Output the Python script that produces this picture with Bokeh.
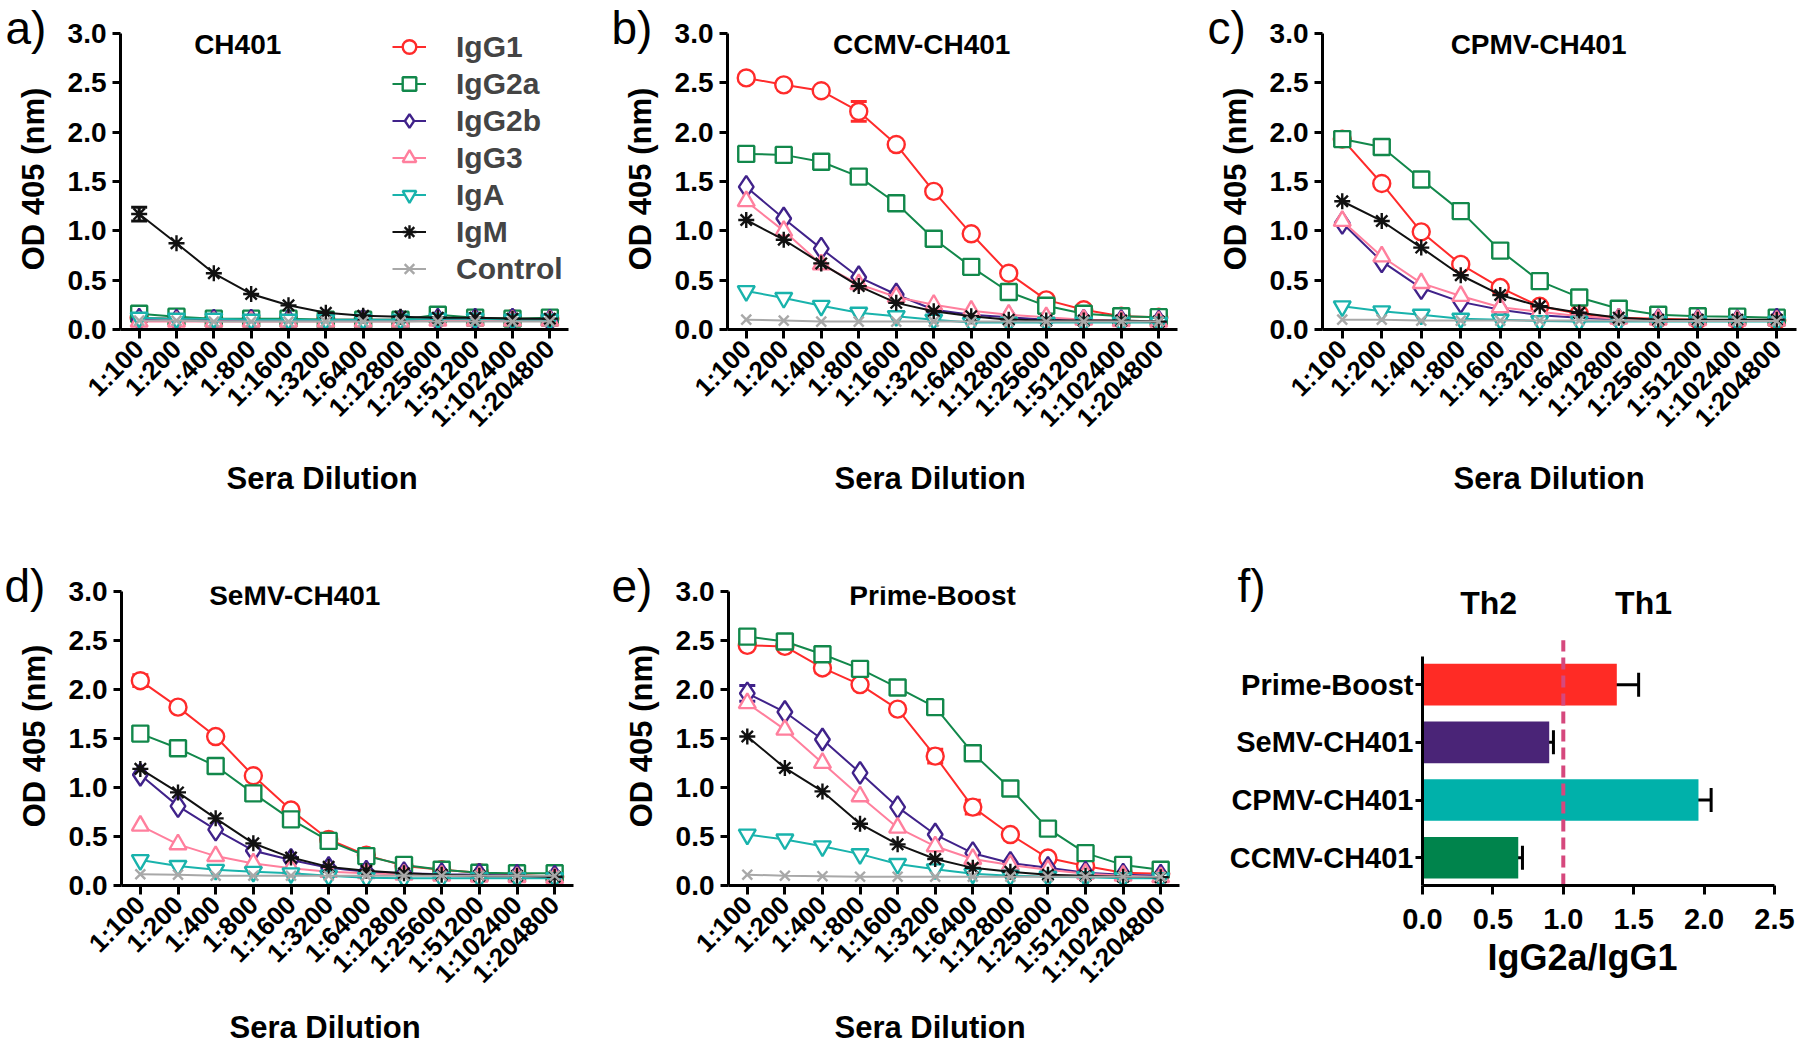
import math
from bokeh.plotting import figure
from bokeh.layouts import row, column
from bokeh.models import (Range1d, FixedTicker, Legend, LegendItem, Label, Whisker,
                          TeeHead, ColumnDataSource, NumeralTickFormatter, Title)
from bokeh.embed import file_html
from bokeh.resources import INLINE

FONT = "Liberation Sans"

DILUTIONS = ["1:100", "1:200", "1:400", "1:800", "1:1600", "1:3200", "1:6400",
             "1:12800", "1:25600", "1:51200", "1:102400", "1:204800"]
SERIES = ["IgG1", "IgG2a", "IgG2b", "IgG3", "IgA", "IgM", "Control"]
Y_TICKS = [0.0, 0.5, 1.0, 1.5, 2.0, 2.5, 3.0]

# ---- panel a) CH401
CH401 = {
    "IgG1":    [0.12, 0.11, 0.10, 0.10, 0.10, 0.10, 0.10, 0.10, 0.11, 0.11, 0.11, 0.11],
    "IgG2a":   [0.16, 0.13, 0.11, 0.11, 0.11, 0.10, 0.10, 0.10, 0.15, 0.12, 0.11, 0.12],
    "IgG2b":   [0.10, 0.09, 0.09, 0.09, 0.09, 0.09, 0.09, 0.09, 0.10, 0.10, 0.10, 0.09],
    "IgG3":    [0.08, 0.08, 0.08, 0.08, 0.08, 0.08, 0.08, 0.08, 0.09, 0.09, 0.09, 0.09],
    "IgA":     [0.12, 0.11, 0.11, 0.10, 0.10, 0.10, 0.10, 0.10, 0.11, 0.11, 0.10, 0.10],
    "IgM":     [1.17, 0.875, 0.57, 0.36, 0.245, 0.17, 0.14, 0.13, 0.12, 0.12, 0.11, 0.11],
    "Control": [0.09, 0.09, 0.08, 0.08, 0.08, 0.08, 0.08, 0.08, 0.08, 0.08, 0.08, 0.08],
}
CH401_ERR = {"IgM": [0.07, 0, 0, 0, 0, 0, 0, 0, 0, 0, 0, 0]}

# ---- panel b) CCMV-CH401
CCMV = {
    "IgG1":    [2.55, 2.48, 2.42, 2.21, 1.875, 1.40, 0.97, 0.57, 0.30, 0.20, 0.135, 0.125],
    "IgG2a":   [1.78, 1.77, 1.70, 1.55, 1.28, 0.92, 0.635, 0.38, 0.24, 0.16, 0.135, 0.125],
    "IgG2b":   [1.445, 1.125, 0.82, 0.53, 0.355, 0.20, 0.15, 0.125, 0.10, 0.09, 0.085, 0.08],
    "IgG3":    [1.30, 1.00, 0.66, 0.46, 0.33, 0.25, 0.19, 0.15, 0.125, 0.10, 0.085, 0.08],
    "IgA":     [0.39, 0.32, 0.24, 0.17, 0.135, 0.10, 0.07, 0.07, 0.07, 0.07, 0.07, 0.07],
    "IgM":     [1.11, 0.91, 0.67, 0.44, 0.27, 0.185, 0.135, 0.10, 0.09, 0.09, 0.09, 0.08],
    "Control": [0.10, 0.09, 0.08, 0.08, 0.08, 0.08, 0.08, 0.08, 0.08, 0.08, 0.08, 0.08],
}
CCMV_ERR = {"IgG1": [0, 0, 0, 0.10, 0, 0, 0, 0, 0, 0, 0, 0]}

# ---- panel c) CPMV-CH401
CPMV = {
    "IgG1":    [1.93, 1.48, 0.99, 0.66, 0.425, 0.235, 0.16, 0.12, 0.11, 0.10, 0.095, 0.095],
    "IgG2a":   [1.93, 1.85, 1.52, 1.20, 0.80, 0.49, 0.325, 0.21, 0.15, 0.135, 0.13, 0.12],
    "IgG2b":   [1.08, 0.69, 0.42, 0.28, 0.20, 0.145, 0.12, 0.10, 0.095, 0.09, 0.085, 0.10],
    "IgG3":    [1.10, 0.74, 0.47, 0.34, 0.225, 0.18, 0.135, 0.11, 0.10, 0.095, 0.09, 0.09],
    "IgA":     [0.235, 0.185, 0.15, 0.11, 0.10, 0.085, 0.08, 0.08, 0.08, 0.08, 0.08, 0.08],
    "IgM":     [1.30, 1.10, 0.83, 0.55, 0.35, 0.235, 0.17, 0.12, 0.10, 0.10, 0.10, 0.10],
    "Control": [0.10, 0.10, 0.09, 0.09, 0.09, 0.09, 0.09, 0.09, 0.085, 0.085, 0.085, 0.085],
}
CPMV_ERR = {}

# ---- panel d) SeMV-CH401
SEMV = {
    "IgG1":    [2.09, 1.82, 1.52, 1.12, 0.77, 0.47, 0.31, 0.20, 0.16, 0.13, 0.11, 0.09],
    "IgG2a":   [1.55, 1.40, 1.22, 0.94, 0.675, 0.455, 0.30, 0.21, 0.16, 0.13, 0.125, 0.125],
    "IgG2b":   [1.13, 0.81, 0.57, 0.355, 0.26, 0.18, 0.14, 0.125, 0.115, 0.11, 0.10, 0.09],
    "IgG3":    [0.61, 0.42, 0.30, 0.225, 0.175, 0.14, 0.125, 0.11, 0.10, 0.09, 0.085, 0.075],
    "IgA":     [0.26, 0.20, 0.16, 0.14, 0.125, 0.10, 0.08, 0.075, 0.075, 0.075, 0.075, 0.075],
    "IgM":     [1.19, 0.95, 0.685, 0.43, 0.285, 0.19, 0.15, 0.125, 0.11, 0.10, 0.10, 0.09],
    "Control": [0.115, 0.11, 0.10, 0.10, 0.10, 0.10, 0.10, 0.10, 0.10, 0.10, 0.10, 0.10],
}
SEMV_ERR = {"IgG1": [0.06, 0, 0, 0, 0, 0, 0, 0, 0, 0, 0, 0]}

# ---- panel e) Prime-Boost
PRIME = {
    "IgG1":    [2.45, 2.44, 2.22, 2.05, 1.80, 1.32, 0.80, 0.52, 0.28, 0.20, 0.13, 0.12],
    "IgG2a":   [2.54, 2.49, 2.36, 2.21, 2.02, 1.82, 1.35, 0.99, 0.58, 0.33, 0.21, 0.16],
    "IgG2b":   [1.96, 1.77, 1.49, 1.15, 0.80, 0.52, 0.33, 0.23, 0.18, 0.13, 0.11, 0.10],
    "IgG3":    [1.86, 1.59, 1.25, 0.91, 0.59, 0.40, 0.27, 0.21, 0.16, 0.12, 0.10, 0.085],
    "IgA":     [0.52, 0.47, 0.40, 0.32, 0.22, 0.165, 0.12, 0.10, 0.09, 0.085, 0.075, 0.075],
    "IgM":     [1.52, 1.20, 0.96, 0.63, 0.42, 0.27, 0.18, 0.14, 0.11, 0.10, 0.09, 0.085],
    "Control": [0.11, 0.10, 0.095, 0.09, 0.09, 0.09, 0.09, 0.09, 0.09, 0.09, 0.09, 0.09],
}
PRIME_ERR = {"IgG1": [0, 0, 0.05, 0, 0, 0.07, 0.07, 0, 0, 0, 0, 0],
             "IgG2a": [0.04, 0, 0, 0, 0, 0, 0, 0, 0, 0, 0, 0],
             "IgG2b": [0.08, 0, 0, 0, 0, 0, 0, 0, 0, 0, 0, 0]}

# ---- panel f) IgG2a/IgG1 ratio
F_GROUPS = ["CCMV-CH401", "CPMV-CH401", "SeMV-CH401", "Prime-Boost"]
F_RATIO = [0.68, 1.96, 0.90, 1.38]
F_ERR = [0.03, 0.09, 0.03, 0.155]
F_THRESHOLD = 1.0

COLORS = {"IgG1": "#FF2B2B", "IgG2a": "#12884B", "IgG2b": "#40228A", "IgG3": "#FF7F9D",
          "IgA": "#19B3AC", "IgM": "#111111", "Control": "#A8A8A8"}
MARKERS = {"IgG1": ("circle", 17), "IgG2a": ("square", 16), "IgG2b": ("diamond", 22),
           "IgG3": ("triangle", 17), "IgA": ("inverted_triangle", 17),
           "IgM": ("asterisk", 16), "Control": ("x", 14)}
F_COLORS = ["#00844C", "#00B1AA", "#4A2477", "#FF2B25"]


def style_axes(p, label_size="28px"):
    p.outline_line_color = None
    p.grid.visible = False
    for ax in (p.xaxis[0], p.yaxis[0]):
        ax.axis_line_width = 3
        ax.axis_line_color = "black"
        ax.major_tick_line_width = 3
        ax.major_tick_line_color = "black"
        ax.major_tick_out = 9
        ax.major_tick_in = 0
        ax.minor_tick_line_color = None
        ax.major_label_text_font = FONT
        ax.major_label_text_font_style = "bold"
        ax.major_label_text_font_size = label_size
        ax.major_label_text_color = "black"
        ax.axis_label_text_font = FONT
        ax.axis_label_text_font_style = "bold"
        ax.axis_label_text_font_size = "31px"
        ax.axis_label_text_color = "black"


def set_letter(p, letter, offset):
    p.title.text = letter
    p.title.align = "left"
    p.title.vertical_align = "bottom"
    p.title.offset = offset
    p.title.standoff = -51
    p.title.text_font = FONT
    p.title.text_font_size = "46px"
    p.title.text_font_style = "normal"
    p.title.text_color = "black"


def below_title(p, text, offset, standoff, size="31px"):
    p.add_layout(Title(text=text, align="left", vertical_align="top", offset=offset,
                       standoff=standoff, text_font=FONT, text_font_size=size,
                       text_font_style="bold", text_color="black"), "below")


def line_panel(letter, title, data, err, width, height, bl, br, bt, bb, y_end,
               title_x, title_y, letter_off, xlabel_off, xlabel_standoff, legend=False):
    p = figure(width=width, height=height, x_range=Range1d(-0.5, 11.5),
               y_range=Range1d(0, y_end), output_backend="svg", toolbar_location=None,
               min_border_left=bl, min_border_right=br, min_border_top=bt,
               min_border_bottom=bb)
    style_axes(p)
    set_letter(p, letter, letter_off)
    p.xaxis.ticker = FixedTicker(ticks=list(range(len(DILUTIONS))))
    p.xaxis.major_label_overrides = {i: d for i, d in enumerate(DILUTIONS)}
    p.xaxis.major_label_orientation = math.pi / 4
    p.xaxis.major_label_text_font_size = "26px"
    p.xaxis.major_label_standoff = 6
    below_title(p, "Sera Dilution", xlabel_off, xlabel_standoff)
    p.yaxis.ticker = FixedTicker(ticks=Y_TICKS)
    p.yaxis.formatter = NumeralTickFormatter(format="0.0")
    p.yaxis.bounds = (0, 3.0)
    p.yaxis.major_tick_out = 8
    p.yaxis.major_label_standoff = 6
    p.yaxis.axis_label = "OD 405 (nm)"
    p.yaxis.axis_label_standoff = 14

    xs = list(range(len(DILUTIONS)))
    items = []
    for s in SERIES:
        ys = data[s]
        c = COLORS[s]
        mk, sz = MARKERS[s]
        if s in err:
            e = err[s]
            idx = [i for i in xs if e[i] > 0]
            src = ColumnDataSource(dict(x=idx, up=[ys[i] + e[i] for i in idx],
                                        lo=[ys[i] - e[i] for i in idx]))
            w = Whisker(base="x", upper="up", lower="lo", source=src, line_color=c,
                        line_width=3,
                        upper_head=TeeHead(size=16, line_color=c, line_width=3),
                        lower_head=TeeHead(size=16, line_color=c, line_width=3))
            p.add_layout(w)
        r1 = p.line(xs, ys, line_color=c, line_width=2)
        r2 = p.scatter(xs, ys, marker=mk, size=sz, line_color=c, fill_color="white",
                       line_width=2.4)
        items.append(LegendItem(label=s, renderers=[r1, r2]))

    p.add_layout(Label(x=title_x, y=title_y, text=title, text_font=FONT,
                       text_font_style="bold", text_font_size="28px",
                       text_align="center", text_baseline="middle", text_color="black"))
    if legend:
        lg = Legend(items=items, location=(272, 42), orientation="vertical",
                    glyph_width=34, glyph_height=37, label_height=37,
                    label_standoff=30, spacing=0, padding=0, margin=0,
                    label_text_font=FONT, label_text_font_style="bold",
                    label_text_font_size="30px", border_line_alpha=0,
                    background_fill_alpha=0)
        p.add_layout(lg)
    return p


H1 = 545
H2 = 1053 - H1
TOP_YEND = 3.051
BOT_YEND = 3.051

pa = line_panel("a)", "CH401", CH401, CH401_ERR, 610, H1, 120, 42, 28, 216, TOP_YEND,
                2.64, 2.89, -115, 106, 28, legend=True)
pb = line_panel("b)", "CCMV-CH401", CCMV, CCMV_ERR, 590, H1, 117, 23, 28, 216, TOP_YEND,
                4.68, 2.89, -116, 107, 28)
pc = line_panel("c)", "CPMV-CH401", CPMV, CPMV_ERR, 600, H1, 122, 4, 28, 216, TOP_YEND,
                4.97, 2.89, -115, 131, 28)
pd = line_panel("d)", "SeMV-CH401", SEMV, SEMV_ERR, 610, H2, 121, 37, 41, 167, BOT_YEND,
                4.1, 2.96, -117, 108, 14)
pe = line_panel("e)", "Prime-Boost", PRIME, PRIME_ERR, 590, H2, 118, 21, 41, 167, BOT_YEND,
                4.93, 2.96, -117, 106, 14)

# ---- panel f
pf = figure(width=600, height=H2, x_range=Range1d(0, 2.5), y_range=Range1d(-0.48, 4.70),
            output_backend="svg", toolbar_location=None, min_border_left=222,
            min_border_right=26, min_border_top=41, min_border_bottom=167)
style_axes(pf, label_size="29px")
set_letter(pf, "f)", -185)
fy = list(range(len(F_GROUPS)))
pf.hbar(y=fy, right=F_RATIO, left=0, height=0.72, fill_color=F_COLORS, line_color=None)
fsrc = ColumnDataSource(dict(y=fy, up=[v + e for v, e in zip(F_RATIO, F_ERR)],
                             lo=[v - e for v, e in zip(F_RATIO, F_ERR)]))
pf.add_layout(Whisker(base="y", upper="up", lower="lo", source=fsrc, dimension="width",
                      line_color="black", line_width=3,
                      upper_head=TeeHead(size=24, line_color="black", line_width=3),
                      lower_head=TeeHead(size=24, line_color="black", line_width=3)))
pf.segment(x0=[F_THRESHOLD], y0=[-0.48], x1=[F_THRESHOLD], y1=[3.77],
           line_color="#D6487D", line_width=4, line_dash="12 6")
pf.xaxis.ticker = FixedTicker(ticks=[0.0, 0.5, 1.0, 1.5, 2.0, 2.5])
pf.xaxis.formatter = NumeralTickFormatter(format="0.0")
pf.xaxis.major_label_standoff = 14
below_title(pf, "IgG2a/IgG1", 65, 10, size="36px")
pf.yaxis.ticker = FixedTicker(ticks=fy)
pf.yaxis.major_label_overrides = {i: g for i, g in enumerate(F_GROUPS)}
pf.yaxis.major_tick_out = 7
pf.yaxis.major_label_standoff = 2
pf.yaxis.bounds = (-0.48, 3.48)
pf.xaxis.bounds = (0, 2.5)
for txt, tx in (("Th2", 0.47), ("Th1", 1.57)):
    pf.add_layout(Label(x=tx, y=4.41, text=txt, text_font=FONT, text_font_style="bold",
                        text_font_size="32px", text_align="center",
                        text_baseline="middle", text_color="black"))

layout = column(row(pa, pb, pc, spacing=0), row(pd, pe, pf, spacing=0), spacing=0)
open("out.html", "w").write(file_html(layout, INLINE))
